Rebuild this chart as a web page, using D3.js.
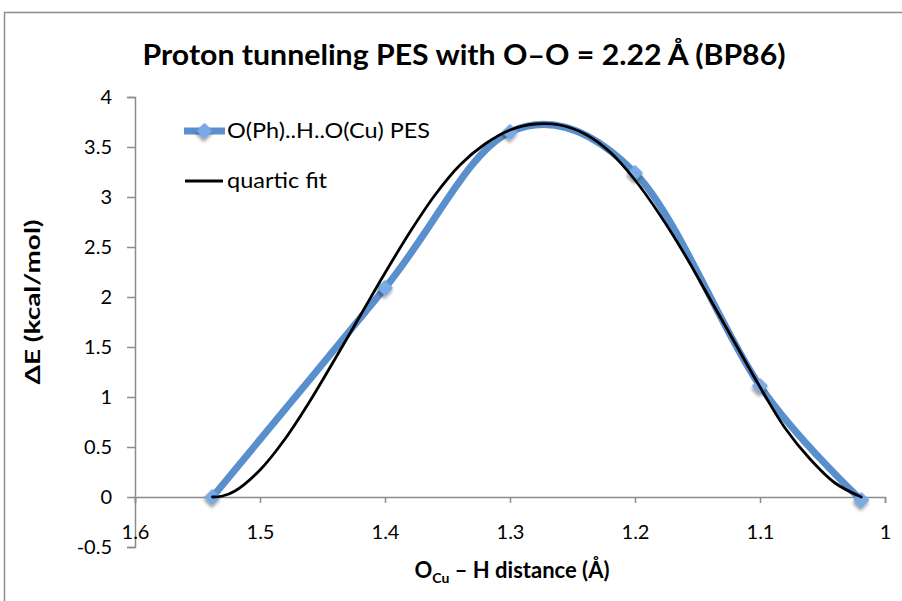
<!DOCTYPE html>
<html>
<head>
<meta charset="utf-8">
<script src="https://cdn.jsdelivr.net/npm/d3@7"></script>
<style>
  html, body { margin: 0; padding: 0; background: #fff; }
  svg { display: block; font-family: Lato, "Open Sans", sans-serif; }
</style>
</head>
<body>
<svg id="chart" width="902" height="601"></svg>
<script>
// O–H distance (Å) of each computed geometry and its relative energy (kcal/mol)
const pesDistance = [1.538, 1.4, 1.3, 1.2, 1.1, 1.019];
const pesEnergy   = [0.00, 2.09, 3.65, 3.24, 1.11, -0.03];

// quartic trend line, sampled along the distance range
const fitDistance = [1.538, 1.53, 1.52, 1.50, 1.48, 1.46, 1.44, 1.42, 1.40, 1.38, 1.36, 1.34, 1.32, 1.30,
                     1.28, 1.26, 1.24, 1.22, 1.20, 1.18, 1.16, 1.14, 1.12, 1.10, 1.08, 1.06, 1.04, 1.019];
const fitEnergy   = [0.00, 0.01, 0.06, 0.27, 0.58, 0.96, 1.38, 1.81, 2.24, 2.65, 3.02, 3.32, 3.53, 3.67,
                     3.73, 3.72, 3.63, 3.45, 3.17, 2.82, 2.42, 1.98, 1.54, 1.10, 0.69, 0.38, 0.14, 0.00];

const xTicks = [1.6, 1.5, 1.4, 1.3, 1.2, 1.1, 1];
const xTickLabels = ["1.6", "1.5", "1.4", "1.3", "1.2", "1.1", "1"];
const yTicks = [-0.5, 0, 0.5, 1, 1.5, 2, 2.5, 3, 3.5, 4];
const yTickLabels = ["-0.5", "0", "0.5", "1", "1.5", "2", "2.5", "3", "3.5", "4"];

const seriesNames = ["O(Ph)..H..O(Cu) PES", "quartic fit"];
const titleText = "Proton tunneling PES with O\u2013O = 2.22 \u00C5 (BP86)";

const svg = d3.select("#chart");
const axisColor = "#8c8c8c";
const blue = "#5a8fcd";
const markerBlue = "#7aabe6";

const x = d3.scaleLinear().domain([1.6, 1.0]).range([135, 885]);
const y = d3.scaleLinear().domain([-0.5, 4]).range([547, 97]);

// drop shadow for the markers
const defs = svg.append("defs");
const f = defs.append("filter").attr("id", "shadow")
  .attr("x", "-60%").attr("y", "-60%").attr("width", "220%").attr("height", "220%");
f.append("feDropShadow").attr("dx", 1.5).attr("dy", 2.5).attr("stdDeviation", 1.8)
  .attr("flood-color", "#000").attr("flood-opacity", 0.4);

// chart frame
svg.append("rect").attr("x", 4.5).attr("y", 12.5).attr("width", 1000).attr("height", 1000)
  .attr("fill", "none").attr("stroke", axisColor).attr("stroke-width", 1.5);

// title
svg.append("text").attr("x", 464).attr("y", 65).attr("text-anchor", "middle")
  .attr("font-size", 29).attr("font-weight", 700).attr("fill", "#000")
  .attr("textLength", 643).attr("lengthAdjust", "spacingAndGlyphs")
  .text(titleText);

// y axis
const yAxis = svg.append("g").attr("transform", `translate(${x(1.6)},0)`)
  .call(d3.axisLeft(y).tickValues(yTicks).tickSize(8).tickPadding(15)
    .tickFormat((d, i) => yTickLabels[i]));
yAxis.select(".domain").attr("stroke", axisColor).attr("stroke-width", 1.5);
yAxis.selectAll(".tick line").attr("stroke", axisColor).attr("stroke-width", 1.5);
yAxis.selectAll(".tick text").attr("font-size", 20).attr("fill", "#000")
  .attr("font-family", "Lato, sans-serif");

// x axis, crossing at zero energy
const xAxis = svg.append("g").attr("transform", `translate(0,${y(0)})`)
  .call(d3.axisBottom(x).tickValues(xTicks).tickSize(6).tickPadding(22)
    .tickFormat((d, i) => xTickLabels[i]));
xAxis.select(".domain").attr("stroke", axisColor).attr("stroke-width", 1.5);
xAxis.selectAll(".tick line").attr("stroke", axisColor).attr("stroke-width", 1.5);
xAxis.selectAll(".tick text").attr("font-size", 20).attr("fill", "#000")
  .attr("font-family", "Lato, sans-serif");

// axis titles
svg.append("text").attr("transform", "translate(40,302) rotate(-90)")
  .attr("text-anchor", "middle").attr("font-size", 21).attr("font-weight", 700)
  .attr("textLength", 165).attr("lengthAdjust", "spacingAndGlyphs")
  .text("\u0394E (kcal/mol)");

const xt = svg.append("text").attr("x", 512).attr("y", 578).attr("text-anchor", "middle")
  .attr("font-size", 22).attr("font-weight", 700);
xt.append("tspan").text("O");
xt.append("tspan").attr("font-size", 14).attr("dy", 5).text("Cu");
xt.append("tspan").attr("dy", -5).text(" \u2013 H distance (\u00C5)");

// PES series: smoothed line with diamond markers
const pes = pesDistance.map((d, i) => [d, pesEnergy[i]]);
const smooth = d3.line().x(d => x(d[0])).y(d => y(d[1])).curve(d3.curveCardinal.tension(0));
svg.append("path").datum(pes).attr("d", smooth)
  .attr("fill", "none").attr("stroke", blue).attr("stroke-width", 7)
  .attr("stroke-linejoin", "round").attr("stroke-linecap", "round");

const diamond = d3.symbol(d3.symbolSquare, 110);
svg.append("g").selectAll("path").data(pes).join("path")
  .attr("d", diamond)
  .attr("transform", d => `translate(${x(d[0])},${y(d[1])}) rotate(45)`)
  .attr("fill", markerBlue).attr("stroke", "#6fa2df").attr("stroke-width", 1)
  .attr("filter", "url(#shadow)");

// quartic fit
const fit = fitDistance.map((d, i) => [d, fitEnergy[i]]);
svg.append("path").datum(fit)
  .attr("d", d3.line().x(d => x(d[0])).y(d => y(d[1])).curve(d3.curveCatmullRom.alpha(0.5)))
  .attr("fill", "none").attr("stroke", "#000").attr("stroke-width", 2.8)
  .attr("stroke-linecap", "round");

// legend
const lg = svg.append("g");
lg.append("line").attr("x1", 184).attr("x2", 225).attr("y1", 131).attr("y2", 131)
  .attr("stroke", blue).attr("stroke-width", 7);
lg.append("path").attr("d", diamond).attr("transform", "translate(204.5,131) rotate(45)")
  .attr("fill", markerBlue).attr("stroke", "#6fa2df").attr("filter", "url(#shadow)");
lg.append("text").attr("x", 227).attr("y", 138).attr("font-size", 21)
  .attr("textLength", 203).attr("lengthAdjust", "spacingAndGlyphs").text(seriesNames[0]);
lg.append("line").attr("x1", 185).attr("x2", 223).attr("y1", 181).attr("y2", 181)
  .attr("stroke", "#000").attr("stroke-width", 2.8);
lg.append("text").attr("x", 227).attr("y", 188).attr("font-size", 21)
  .attr("textLength", 100).attr("lengthAdjust", "spacingAndGlyphs").text(seriesNames[1]);
</script>
</body>
</html>
